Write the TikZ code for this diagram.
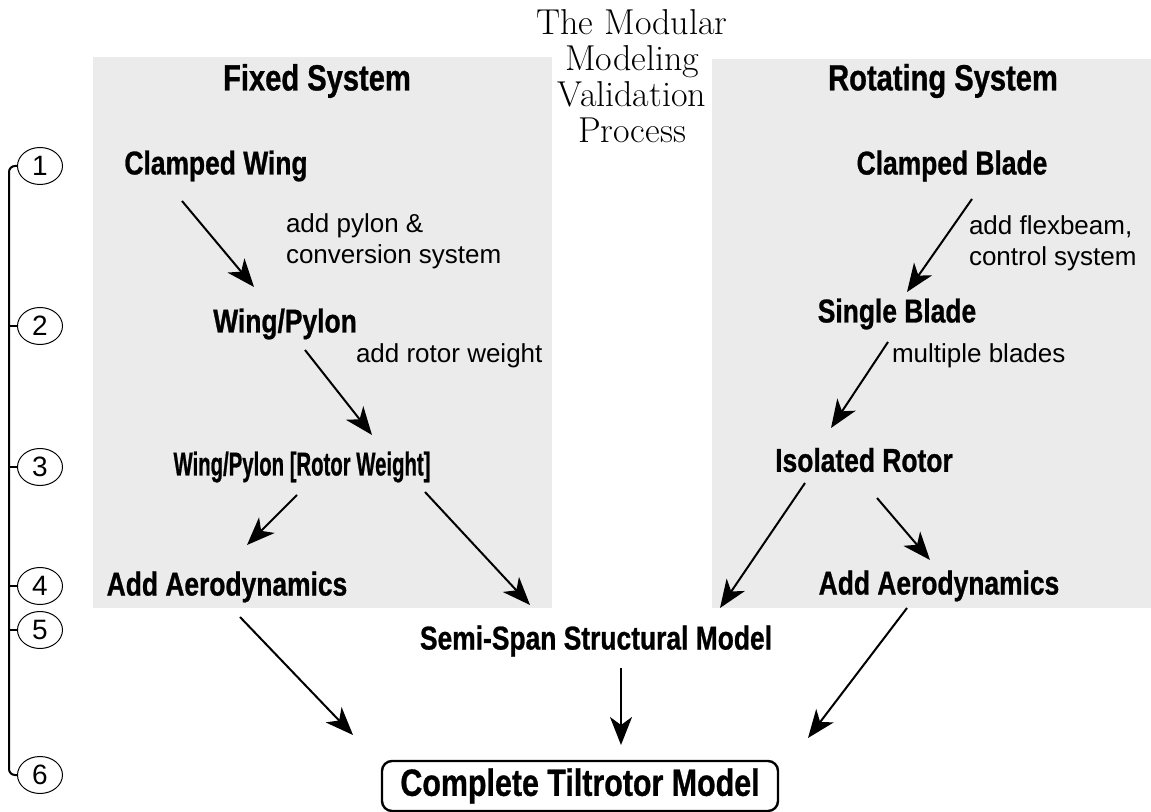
\documentclass[tikz,border=0pt]{standalone}
\usepackage{fontspec}
\usetikzlibrary{arrows.meta,calc,shapes.geometric}
\newfontfamily\sansfont{Liberation Sans}
\newfontfamily\headfont[FakeStretch=0.8,FakeBold=0.8]{Liberation Sans}
\definecolor{panel}{RGB}{235,235,235}
\tikzset{
  stage/.style={font=\headfont\bfseries\fontsize{16.5}{18}\selectfont,inner sep=0pt},
  note/.style={font=\sansfont\fontsize{13}{15.5}\selectfont,align=left,anchor=west,inner sep=0pt},
  stepno/.style={draw,line width=0.5pt,ellipse,minimum width=22.5pt,minimum height=18.5pt,inner sep=0pt,
    font=\sansfont\fontsize{14}{14}\selectfont},
}
\begin{document}
\begin{tikzpicture}[x=0.5pt,y=-0.5pt,line width=1pt,>={Stealth[length=14pt,width=11pt,inset=4pt]}]
\useasboundingbox(0,0)rectangle(1151,812);
% the two shaded halves
\fill[panel](93,57)rectangle(552,608);
\fill[panel](712,59)rectangle(1151,608);
\node[align=center,font=\fontsize{18}{18}\selectfont,inner sep=0pt](title)at(632,76){The Modular\\Modeling\\Validation\\Process};
\node[stage,font=\headfont\bfseries\fontsize{18.2}{20}\selectfont](fixed)at(317,81){Fixed System};
\node[stage,font=\headfont\bfseries\fontsize{18.2}{20}\selectfont](rotating)at(943,81){Rotating System};
% fixed system
\node[stage](cwing)at(216,166){Clamped Wing};
\node[stage](wpylon)at(285,324){Wing/Pylon};
\node[stage](wprw)at(302,467){\scalebox{0.77}[1]{Wing/Pylon [Rotor Weight]}};
\node[stage](aerol)at(227,587){Add Aerodynamics};
% rotating system
\node[stage](cblade)at(952,166){Clamped Blade};
\node[stage](sblade)at(897,314){Single Blade};
\node[stage](irotor)at(864,460){Isolated Rotor};
\node[stage](aeror)at(939,586){Add Aerodynamics};
\node[stage](semi)at(596,641){Semi-Span Structural Model};
\node[draw,line width=1.2pt,rounded corners=5pt,minimum width=198pt,minimum height=25pt,inner sep=0pt,
  font=\headfont\bfseries\fontsize{19}{20}\selectfont](full)at(580,786){Complete Tiltrotor Model};
% labels on the steps
\node[note](n1)at(285,241){add pylon \&\\conversion system};
\node[note](n2)at(355,356){add rotor weight};
\node[note](n3)at(968,243){add flexbeam,\\control system};
\node[note](n4)at(891,356){multiple blades};
% arrows
\draw[->]($(cwing)+(-34,35)$)--($(wpylon)+(-31,-37)$);
\draw[->]($(wpylon)+(20,26)$)--($(wprw)+(70,-32)$);
\draw[->]($(wprw)+(-5,28)$)--($(aerol)+(20,-42)$);
\draw[->]($(wprw)+(123,25)$)--($(semi)+(-66,-36)$);
\draw[->]($(aerol)+(13,30)$)--($(full)+(-227,-51)$);
\draw[->]($(semi)+(25,27)$)--($(full)+(41,-41)$);
\draw[->]($(aeror)+(-32,22)$)--($(full)+(228,-48)$);
\draw[->]($(cblade)+(20,33)$)--($(sblade)+(10,-22)$);
\draw[->]($(sblade)+(-9,28)$)--($(irotor)+(-33,-32)$);
\draw[->]($(irotor)+(-59,23)$)--($(semi)+(124,-33)$);
\draw[->]($(irotor)+(13,38)$)--($(aeror)+(-9,-26)$);
% numbered levels
\coordinate(spine)at(9,0);
\foreach \n/\y in {1/166,2/326,3/467,4/586,5/630,6/775}
  \node[stepno](s\n)at(40,\y){\n};
\draw[rounded corners=3pt](s1.west)--(s1.west-|spine)--(s6.west-|spine)--(s6.west);
\foreach \n in {2,...,5}
  \draw(s\n.west)--(s\n.west-|spine);
\end{tikzpicture}
\end{document}
